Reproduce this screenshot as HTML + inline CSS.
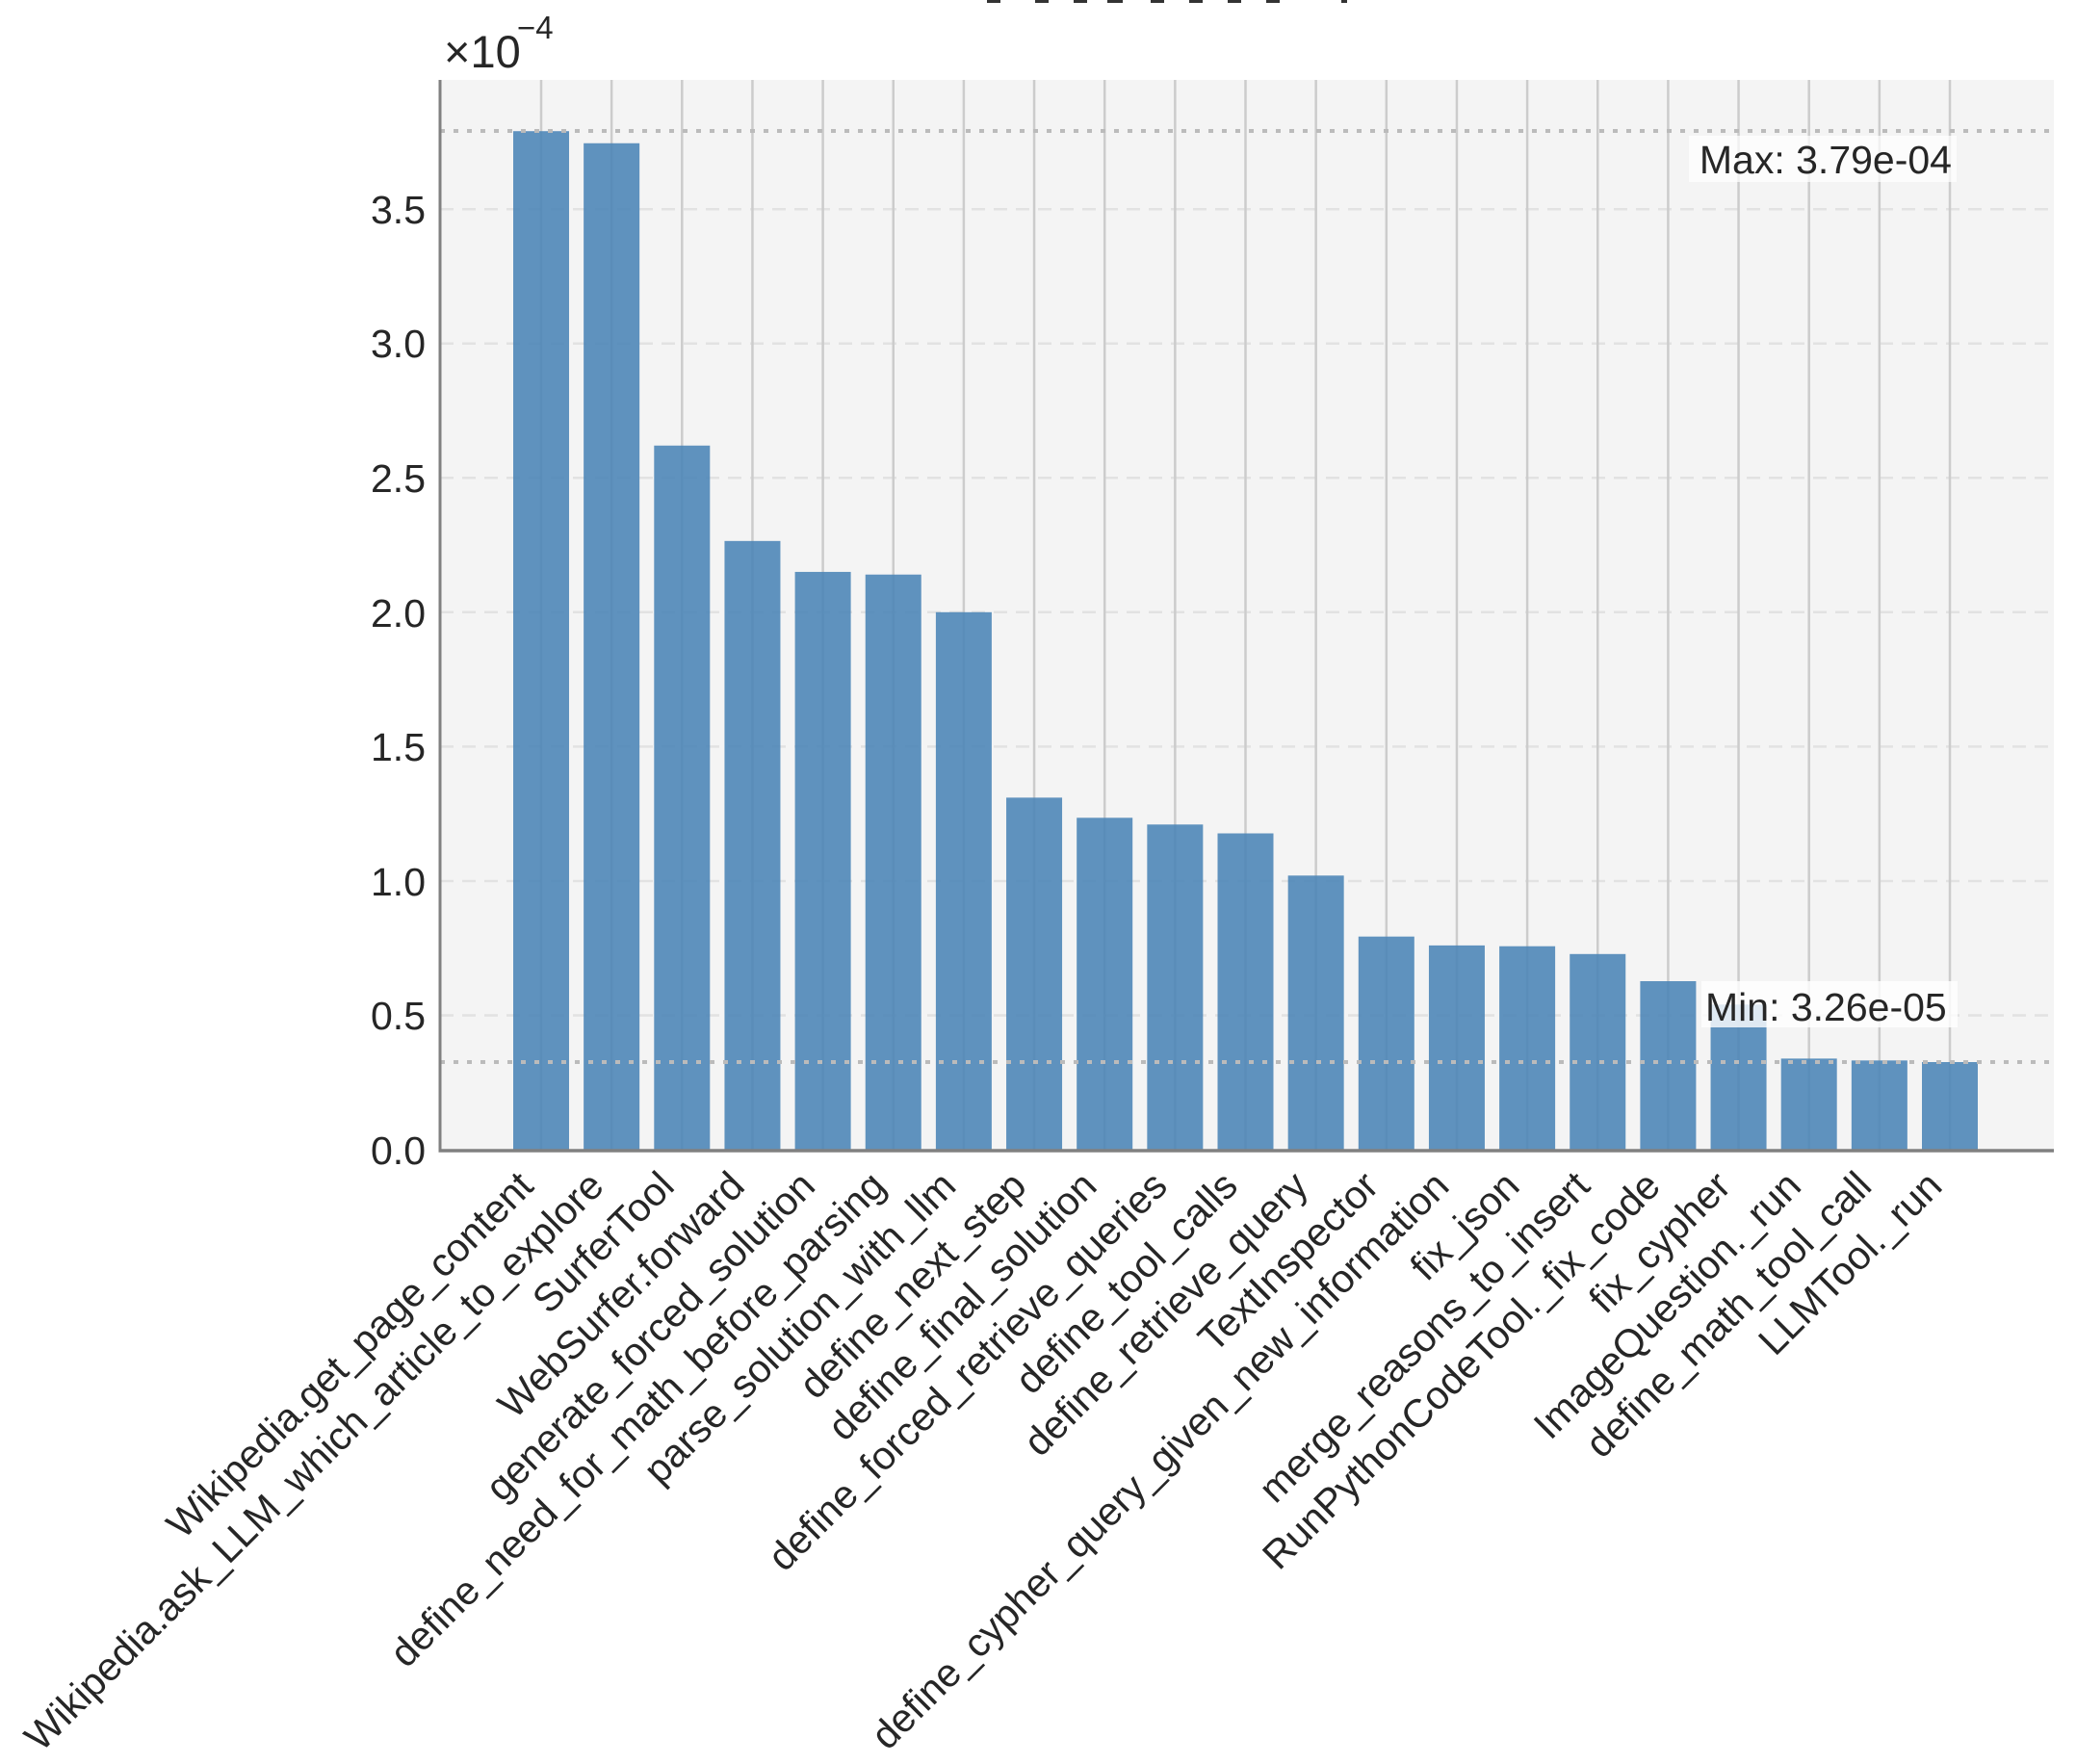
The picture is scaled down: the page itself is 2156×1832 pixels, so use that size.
<!DOCTYPE html>
<html><head><meta charset="utf-8"><style>body{margin:0;background:#fff}svg{display:block}text{font-family:"Liberation Sans",Arial,sans-serif;fill:#262626}</style></head>
<body>
<svg width="2156" height="1832" viewBox="0 0 2156 1832" xmlns="http://www.w3.org/2000/svg">
<g fill="#333"><rect x="1025" y="0" width="14" height="3"/><rect x="1075" y="0" width="14" height="3"/><rect x="1115" y="0" width="14" height="3"/><rect x="1150" y="0" width="16" height="3"/><rect x="1195" y="0" width="14" height="3"/><rect x="1235" y="0" width="14" height="3"/><rect x="1275" y="0" width="14" height="3"/><rect x="1315" y="0" width="14" height="3"/><rect x="1393" y="0" width="6" height="3"/></g>
<rect x="457" y="83" width="1676" height="1111" fill="#f4f4f4"/>
<g stroke="#e2e2e2" stroke-width="2.5" stroke-dasharray="14,9">
<line x1="457" x2="2133" y1="1054.5" y2="1054.5"/><line x1="457" x2="2133" y1="915" y2="915"/><line x1="457" x2="2133" y1="775.4" y2="775.4"/><line x1="457" x2="2133" y1="635.8" y2="635.8"/><line x1="457" x2="2133" y1="496.3" y2="496.3"/><line x1="457" x2="2133" y1="356.7" y2="356.7"/><line x1="457" x2="2133" y1="217.2" y2="217.2"/>
</g>
<g id="vg" stroke="#cccccc" stroke-width="2.5"></g>
<g id="bars" fill="#4a84b6" fill-opacity="0.88"></g>
<g stroke="#bbbbbb" stroke-width="4" stroke-dasharray="5,9">
<line x1="457" x2="2133" y1="136" y2="136"/><line x1="457" x2="2133" y1="1103" y2="1103"/>
</g>
<rect x="1754" y="141" width="278" height="48" fill="#fff" fill-opacity="0.7"/>
<text x="2027" y="180" font-size="41" text-anchor="end">Max: 3.79e-04</text>
<rect x="1767" y="1019" width="266" height="48" fill="#fff" fill-opacity="0.8"/>
<text x="1771" y="1060" font-size="41">Min: 3.26e-05</text>
<line x1="457" y1="83" x2="457" y2="1196" stroke="#808080" stroke-width="3"/>
<line x1="455.5" y1="1195" x2="2133" y2="1195" stroke="#808080" stroke-width="3.5"/>
<g font-size="41" text-anchor="end">
<text x="442" y="1209">0.0</text><text x="442" y="1069">0.5</text><text x="442" y="930">1.0</text><text x="442" y="790">1.5</text><text x="442" y="651">2.0</text><text x="442" y="511">2.5</text><text x="442" y="371">3.0</text><text x="442" y="232">3.5</text>
</g>
<text x="461" y="70" font-size="47">×10</text><text x="537" y="40" font-size="33">−4</text>
<g id="xl" font-size="41" text-anchor="end"></g>
</svg>
<script>
var vals=[3.79,3.745,2.62,2.265,2.15,2.14,2.0,1.31,1.235,1.21,1.177,1.02,0.793,0.76,0.757,0.728,0.627,0.54,0.339,0.332,0.326];
var labs=["Wikipedia.get_page_content","Wikipedia.ask_LLM_which_article_to_explore","SurferTool","WebSurfer.forward","generate_forced_solution","define_need_for_math_before_parsing","parse_solution_with_llm","define_next_step","define_final_solution","define_forced_retrieve_queries","define_tool_calls","define_retrieve_query","TextInspector","define_cypher_query_given_new_information","fix_json","merge_reasons_to_insert","RunPythonCodeTool._fix_code","fix_cypher","ImageQuestion._run","define_math_tool_call","LLMTool._run"];
var ns="http://www.w3.org/2000/svg";
var vg=document.getElementById("vg"),bg=document.getElementById("bars"),xl=document.getElementById("xl");
for(var i=0;i<21;i++){
 var cx=562+i*73.15;
 var l=document.createElementNS(ns,"line");l.setAttribute("x1",cx);l.setAttribute("x2",cx);l.setAttribute("y1",83);l.setAttribute("y2",1194);vg.appendChild(l);
 var h=vals[i]*279.1;
 var r=document.createElementNS(ns,"rect");r.setAttribute("x",cx-29);r.setAttribute("width",58);r.setAttribute("y",1194-h);r.setAttribute("height",h);bg.appendChild(r);
 var t=document.createElementNS(ns,"text");t.setAttribute("x",cx-6);t.setAttribute("y",1234);t.setAttribute("transform","rotate(-45 "+(cx-6)+" 1234)");t.textContent=labs[i];xl.appendChild(t);
}
</script>
</body></html>
